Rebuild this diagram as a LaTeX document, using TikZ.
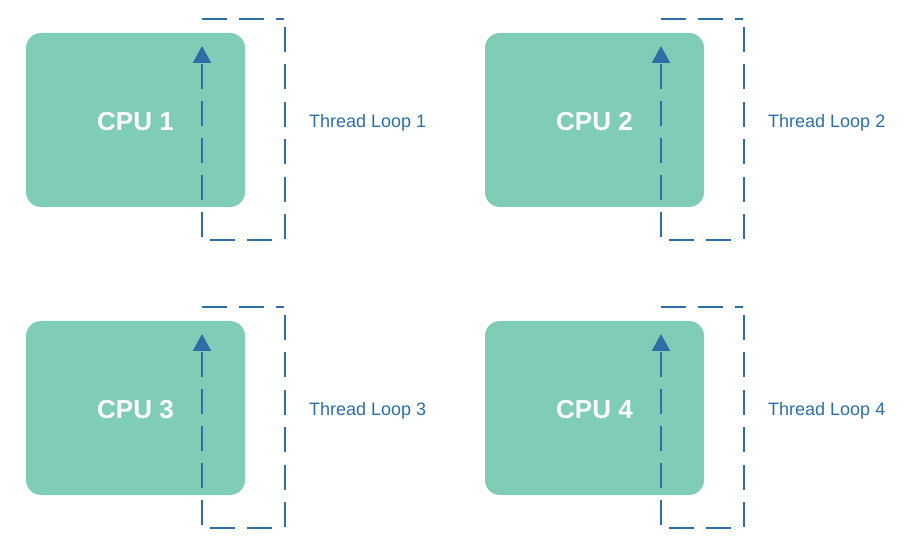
\documentclass[tikz,border=0pt]{standalone}
\usepackage{fontspec}
\setmainfont{Liberation Sans}
\usetikzlibrary{arrows.meta}
\definecolor{cputeal}{HTML}{7FCDB6}
\definecolor{loopblue}{HTML}{2C6EA6}
\begin{document}
\begin{tikzpicture}[x=1pt,y=-1pt,
  cpubox/.style={fill=cputeal, rounded corners=15pt, minimum width=219pt,
    minimum height=174pt, inner sep=0pt, text=white, text depth=0pt,
    font=\fontsize{26}{30}\selectfont\bfseries},
  loopside/.style={draw=loopblue, line width=2.3pt, dash pattern=on 25pt off 12pt},
  looparrow/.style={loopside, -{Triangle[width=18pt,length=17pt]}},
  looplabel/.style={anchor=west, text=loopblue, inner sep=0pt,
    font=\fontsize{18}{22}\selectfont}]
  \useasboundingbox (0,0) rectangle (916,545);
  \foreach \n/\dx/\dy in {1/0/0, 2/459/0, 3/0/288, 4/459/288} {
    \begin{scope}[shift={(\dx,\dy)}]
      \node[cpubox] (cpu\n) at (135.5,120) {\raisebox{-2pt}{CPU \n}};
      % corners of the dashed thread loop
      \coordinate (lt\n) at (202,19);
      \coordinate (rt\n) at (284,19);
      \coordinate (rtv\n) at (285,27);
      \coordinate (rbv\n) at (285,239);
      \coordinate (rb\n) at (272,240);
      \coordinate (lb\n) at (209,240);
      \coordinate (lbv\n) at (202,237);
      \coordinate (tip\n) at (202,46);
      % each side is dashed on its own, the last one ends in the arrow
      \draw[loopside] (lt\n) -- (rt\n);
      \draw[loopside, dash pattern=on 25pt off 12.4pt] (rtv\n) -- (rbv\n);
      \draw[loopside] (rb\n) -- (lb\n);
      \draw[looparrow] (lbv\n) -- (tip\n);
      \node[looplabel] (loop\n) at (309,123) {Thread Loop \n};
    \end{scope}
  }
\end{tikzpicture}
\end{document}
